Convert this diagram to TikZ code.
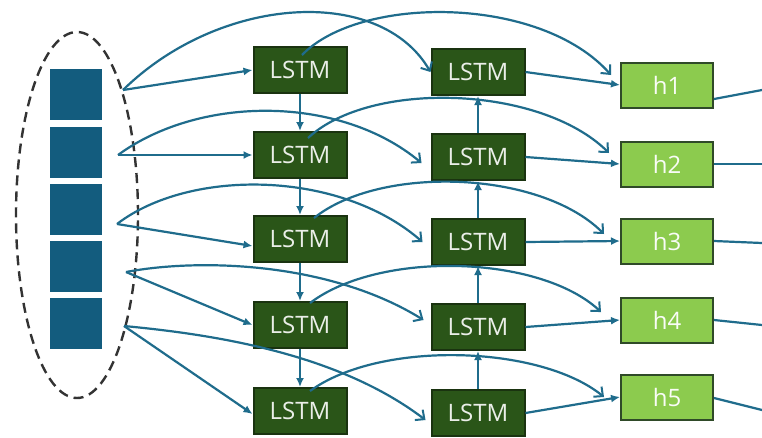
\documentclass[tikz,border=0pt]{standalone}
\usepackage{fontspec}
\setmainfont{Open Sans}
\usetikzlibrary{arrows.meta,calc,shapes.geometric}

\definecolor{inblue}{HTML}{135C7E}
\definecolor{wirecol}{HTML}{1F6C8C}
\definecolor{lstmfill}{HTML}{2A5518}
\definecolor{lstmedge}{HTML}{1A3310}
\definecolor{hfill}{HTML}{8CCB4E}
\definecolor{hedge}{HTML}{2F4A28}
\definecolor{grpedge}{HTML}{333333}

\begin{document}
\begin{tikzpicture}[x=1pt,y=-1pt,
  inblock/.style={fill=inblue, minimum width=52pt, minimum height=51pt, inner sep=0pt},
  lstm/.style={draw=lstmedge, line width=2pt, fill=lstmfill, text=white!90!lstmfill,
    minimum width=93pt, minimum height=46pt, inner sep=0pt,
    font=\fontsize{24}{24}\selectfont},
  hbox/.style={draw=hedge, line width=2pt, fill=hfill, text=white!95!hfill,
    minimum width=92pt, minimum height=45pt, inner sep=0pt,
    font=\fontsize{24}{24}\selectfont},
  wire/.style={draw=wirecol, line width=2.2pt},
  flow/.style={wire, -{Latex[length=9pt,width=8pt]}},
  arcwire/.style={wire, -{Straight Barb[length=7pt,width=13pt,line width=2pt]}},
]
\fill[white] (0,0) rectangle (762,437);
\useasboundingbox (0,0) rectangle (762,437);

% input sequence and its grouping
\node[draw=grpedge, line width=2.4pt, dash pattern=on 10pt off 6pt, ellipse,
      minimum width=122pt, minimum height=366pt, inner sep=0pt] (grp) at (77,215) {};
\node[inblock] (in1) at (76,94) {};
\node[inblock] (in2) at (76,152) {};
\node[inblock] (in3) at (76,209) {};
\node[inblock] (in4) at (76,266) {};
\node[inblock] (in5) at (76,323) {};

% taps where each input leaves the group
\coordinate (t1) at (123,90);
\coordinate (t2) at (118,155);
\coordinate (t3) at (117,224);
\coordinate (t4) at (126,272);
\coordinate (t5) at (124,326);

% forward LSTM column
\node[lstm] (L1) at (300,70) {LSTM};
\node[lstm] (L2) at (300,155) {LSTM};
\node[lstm] (L3) at (300,239) {LSTM};
\node[lstm] (L4) at (300,325) {LSTM};
\node[lstm] (L5) at (300,411) {LSTM};

% backward LSTM column
\node[lstm] (R1) at (478,72) {LSTM};
\node[lstm] (R2) at (478,157) {LSTM};
\node[lstm] (R3) at (478,242) {LSTM};
\node[lstm] (R4) at (478,327) {LSTM};
\node[lstm] (R5) at (478,413) {LSTM};

% hidden outputs
\node[hbox] (h1) at (667,85) {h1};
\node[hbox] (h2) at (667,164) {h2};
\node[hbox] (h3) at (667,241) {h3};
\node[hbox] (h4) at (667,320) {h4};
\node[hbox] (h5) at (667,397) {h5};

% outgoing lines at the right edge
\coordinate (e1) at (762,90);
\coordinate (e2) at (762,164);
\coordinate (e3) at (762,243);
\coordinate (e4) at (762,325);
\coordinate (e5) at (762,410);

% inputs into the forward column
\draw[flow] (t1) -- (L1.west);
\draw[flow] (t2) -- (L2.west);
\draw[flow] (t3) -- ([yshift=-7pt]L3.west);
\draw[flow] (t4) -- (L4.west);
\draw[flow] (t5) -- ([yshift=-3pt]L5.west);

% inputs arching over to the backward column
\draw[arcwire] (t1) .. controls (220,-5) and (380,-15) .. (R1.west);
\draw[arcwire] (t2) .. controls (200,95) and (340,95) .. ($(R2.west)+(-9,6)$);
\draw[arcwire] (t3) .. controls (190,168) and (340,170) .. ($(R3.west)+(-8,0)$);
\draw[arcwire] (t4) .. controls (200,258) and (330,262) .. ($(R4.west)+(-7,-7)$);
\draw[arcwire] (t5) .. controls (220,335) and (340,355) .. ($(R5.west)+(-5,7)$);

% recurrence: forward goes down, backward goes up
\draw[flow] (L1.south) -- (L2.north);
\draw[flow] (L2.south) -- (L3.north);
\draw[flow] (L3.south) -- (L4.north);
\draw[flow] (L4.south) -- (L5.north);
\draw[flow] (R5.north) -- (R4.south);
\draw[flow] (R4.north) -- (R3.south);
\draw[flow] (R3.north) -- (R2.south);
\draw[flow] (R2.north) -- (R1.south);

% backward states into the outputs
\draw[flow] (R1.east) -- (h1.west);
\draw[flow] (R2.east) -- (h2.west);
\draw[flow] (R3.east) -- (h3.west);
\draw[flow] (R4.east) -- (h4.west);
\draw[flow] (R5.east) -- (h5.west);

% forward states arching over to the outputs
\draw[arcwire] ($(L1.north)+(2,9)$) .. controls (360,-5) and (540,-5) .. ($(h1.west)+(-9,-10)$);
\draw[arcwire] ($(L2.north)+(8,7)$) .. controls (370,80) and (540,85) .. ($(h2.west)+(-11,-11)$);
\draw[arcwire] ($(L3.north)+(14,3)$) .. controls (380,165) and (540,170) .. ($(h3.west)+(-16,-7)$);
\draw[arcwire] ($(L4.north)+(10,2)$) .. controls (380,250) and (540,255) .. ($(h4.west)+(-19,-8)$);
\draw[arcwire] ($(L5.north)+(10,4)$) .. controls (380,340) and (540,345) .. ($(h5.west)+(-16,0)$);

% outputs leaving to the right
\draw[wire] ($(h1.east)+(0,14)$) -- (e1);
\draw[wire] (h2.east) -- (e2);
\draw[wire] (h3.east) -- (e3);
\draw[wire] (h4.east) -- (e4);
\draw[wire] ($(h5.east)+(0,1)$) -- (e5);
\end{tikzpicture}
\end{document}
